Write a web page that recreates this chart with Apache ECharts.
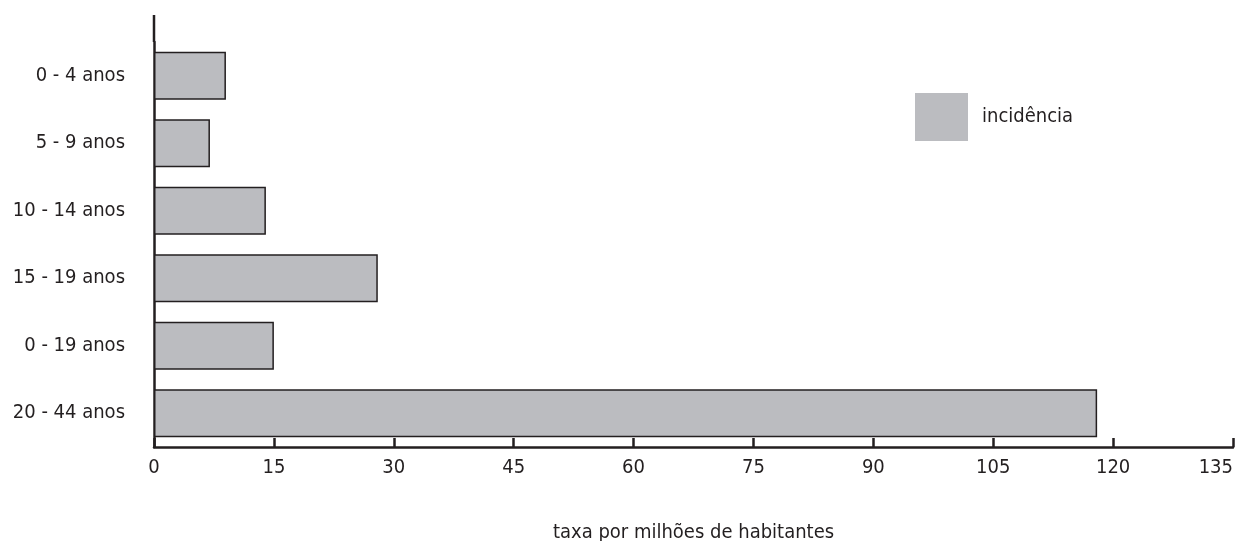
<!DOCTYPE html>
<html>
<head>
<meta charset="utf-8">
<script src="https://cdn.jsdelivr.net/npm/echarts@6/dist/echarts.min.js"></script>
<style>
  html, body { margin: 0; padding: 0; background: #fff; }
  #echart { width: 1244px; height: 541px; }
</style>
</head>
<body>
<div id="echart"></div>
<script>
var categories = ['0 - 4 anos', '5 - 9 anos', '10 - 14 anos', '15 - 19 anos', '0 - 19 anos', '20 - 44 anos'];
var incidencia = [9, 7, 14, 28, 15, 118];
var xTicks = { min: 0, max: 135, interval: 15 };

var ink = '#231f20';
var font = '"Liberation Sans Narrow", "DejaVu Sans Condensed", "Roboto", sans-serif';
var gridLeft = 154, gridTop = 42, axisTop = 15;

var myChart = echarts.init(document.getElementById('echart'));
myChart.setOption({
	animation: false,
	textStyle: { fontFamily: font, color: ink },
	grid: { left: gridLeft, right: 11, top: gridTop, bottom: 94, outerBoundsMode: 'none', containLabel: false },
	legend: {
		data: ['incidência'],
		icon: 'rect',
		left: 915,
		top: 93,
		padding: 0,
		itemWidth: 53,
		itemHeight: 48,
		itemStyle: { borderWidth: 0 },
		textStyle: { fontFamily: font, fontSize: 20, color: ink, padding: [0, 0, 0, 9] }
	},
	xAxis: {
		type: 'value',
		min: xTicks.min,
		max: xTicks.max,
		interval: xTicks.interval,
		name: 'taxa por milhões de habitantes',
		nameLocation: 'middle',
		nameGap: 76,
		nameTextStyle: { fontFamily: font, fontSize: 20, color: ink },
		axisLine: { show: true, lineStyle: { color: ink, width: 2.5 } },
		axisTick: { show: true, inside: true, length: 9, lineStyle: { color: ink, width: 2.5 } },
		axisLabel: { fontFamily: font, fontSize: 20, color: ink, margin: 11, alignMaxLabel: 'right' },
		splitLine: { show: false }
	},
	yAxis: {
		type: 'category',
		inverse: true,
		data: categories,
		axisLine: { show: true, lineStyle: { color: ink, width: 2.5 } },
		axisTick: { show: false },
		axisLabel: { fontFamily: font, fontSize: 20, color: ink, margin: 29 }
	},
	graphic: [{
		type: 'line',
		shape: { x1: gridLeft, y1: axisTop, x2: gridLeft, y2: gridTop },
		style: { stroke: ink, lineWidth: 2.5 }
	}],
	series: [{
		name: 'incidência',
		type: 'bar',
		data: incidencia,
		barWidth: 48,
		itemStyle: { color: '#bbbcc0', borderColor: ink, borderWidth: 1.5 }
	}]
});
</script>
</body>
</html>
